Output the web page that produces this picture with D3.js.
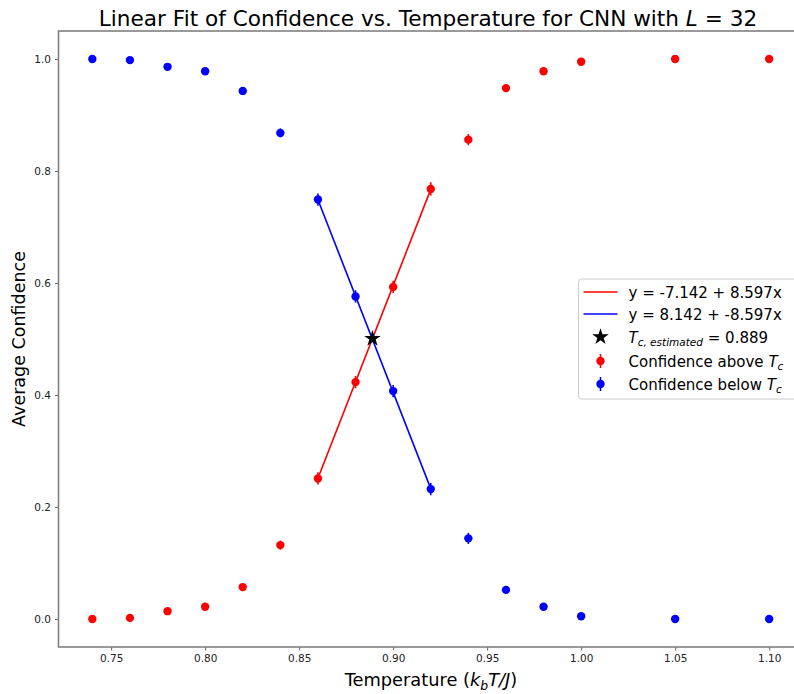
<!DOCTYPE html>
<html>
<head>
<meta charset="utf-8">
<script src="https://cdn.jsdelivr.net/npm/d3@7/dist/d3.min.js"></script>
<style>
  html, body { margin: 0; padding: 0; background: #fff; }
  svg { display: block; font-family: "DejaVu Sans", sans-serif; }
</style>
</head>
<body>
<svg id="chart" width="794" height="694"></svg>
<script>
// Temperatures sampled and the CNN's average confidence at each one
const temps = [0.74, 0.76, 0.78, 0.80, 0.82, 0.84, 0.86, 0.88, 0.90, 0.92, 0.94, 0.96, 0.98, 1.00, 1.05, 1.10];
const confAbove = [0.000, 0.002, 0.014, 0.022, 0.057, 0.132, 0.251, 0.423, 0.593, 0.768, 0.856, 0.948, 0.978, 0.995, 1.000, 1.000];
const errAbove  = [0.001, 0.002, 0.003, 0.003, 0.004, 0.008, 0.011, 0.011, 0.011, 0.012, 0.010, 0.005, 0.003, 0.002, 0.001, 0.001];
const confBelow = [1.000, 0.998, 0.986, 0.978, 0.943, 0.868, 0.749, 0.576, 0.407, 0.232, 0.144, 0.052, 0.022, 0.005, 0.000, 0.000];
const errBelow  = [0.001, 0.002, 0.003, 0.003, 0.004, 0.008, 0.011, 0.011, 0.011, 0.011, 0.010, 0.005, 0.003, 0.002, 0.001, 0.001];

// Linear fits [intercept, slope] over the transition window
const fitAbove = [-7.142, 8.597];
const fitBelow = [8.142, -8.597];
const fitRange = [0.86, 0.92];
const tcEstimate = 0.889;

const xTicks = [0.75, 0.80, 0.85, 0.90, 0.95, 1.00, 1.05, 1.10];
const yTicks = [0.0, 0.2, 0.4, 0.6, 0.8, 1.0];

const RED = "#ff0000", BLUE = "#0000ff";
const svg = d3.select("#chart");
const plotL = 58.5, plotR = 803, plotT = 31, plotB = 647;

const x = d3.scaleLinear().domain([0.722, 1.118]).range([plotL, plotR]);
const y = d3.scaleLinear().domain([-0.05, 1.05]).range([plotB, plotT]);

// Axes
const gx = svg.append("g").attr("transform", `translate(0,${plotB})`)
  .call(d3.axisBottom(x).tickValues(xTicks).tickFormat(d3.format(".2f")).tickSizeOuter(0).tickSize(3.5).tickPadding(4));
const gy = svg.append("g").attr("transform", `translate(${plotL},0)`)
  .call(d3.axisLeft(y).tickValues(yTicks).tickFormat(d3.format(".1f")).tickSizeOuter(0).tickSize(3.5).tickPadding(4));
[gx, gy].forEach(g => {
  g.selectAll("text").attr("font-family", "DejaVu Sans").attr("font-size", 10.5).attr("fill", "#222");
  g.selectAll("line").attr("stroke", "#666");
  g.select(".domain").remove();
});
// spines
svg.append("rect").attr("x", plotL).attr("y", plotT).attr("width", plotR - plotL).attr("height", plotB - plotT)
  .attr("fill", "none").attr("stroke", "#808080").attr("stroke-width", 1.6);

// Fit lines
const line = d3.line().x(d => x(d[0])).y(d => y(d[1]));
function fitPoints(c) { return fitRange.map(t => [t, c[0] + c[1] * t]); }
svg.append("path").attr("d", line(fitPoints(fitAbove))).attr("stroke", RED).attr("stroke-width", 1.6).attr("fill", "none");
svg.append("path").attr("d", line(fitPoints(fitBelow))).attr("stroke", BLUE).attr("stroke-width", 1.6).attr("fill", "none");

// Error-bar series
function series(vals, errs, color) {
  const g = svg.append("g");
  temps.forEach((t, i) => {
    g.append("line").attr("x1", x(t)).attr("x2", x(t))
      .attr("y1", y(vals[i] - errs[i])).attr("y2", y(vals[i] + errs[i]))
      .attr("stroke", color).attr("stroke-width", 1.6);
    g.append("circle").attr("cx", x(t)).attr("cy", y(vals[i])).attr("r", 4.2).attr("fill", color);
  });
}
series(confAbove, errAbove, RED);
series(confBelow, errBelow, BLUE);

// Estimated critical temperature
const tcY = fitAbove[0] + fitAbove[1] * tcEstimate;
svg.append("path").attr("d", d3.symbol(d3.symbolStar, 85)())
  .attr("transform", `translate(${x(tcEstimate)},${y(tcY)})`).attr("fill", "#000");

// Title and axis labels
const title = svg.append("text").attr("x", 428).attr("y", 26).attr("text-anchor", "middle")
  .attr("font-size", 21.6).attr("fill", "#000");
title.append("tspan").text("Linear Fit of Confidence vs. Temperature for CNN with ");
title.append("tspan").attr("font-style", "italic").text("L");
title.append("tspan").text(" = 32");

const xl = svg.append("text").attr("x", 431).attr("y", 686).attr("text-anchor", "middle")
  .attr("font-size", 17.8).attr("fill", "#000");
xl.append("tspan").text("Temperature (");
xl.append("tspan").attr("font-style", "italic").text("k");
xl.append("tspan").attr("font-style", "italic").attr("font-size", 12.5).attr("dy", 3.5).text("b");
xl.append("tspan").attr("font-style", "italic").attr("dy", -3.5).text("T/J");
xl.append("tspan").text(")");

svg.append("text").attr("transform", "translate(25,339) rotate(-90)").attr("text-anchor", "middle")
  .attr("font-size", 17.5).attr("fill", "#000").text("Average Confidence");

// Legend
const lg = svg.append("g").attr("transform", "translate(578.5,279)");
lg.append("rect").attr("width", 220).attr("height", 120).attr("rx", 3)
  .attr("fill", "#fff").attr("fill-opacity", 0.8).attr("stroke", "#cccccc").attr("stroke-width", 1);
const rows = [292, 314, 337, 361, 384].map(v => v - 279);
const hx0 = 5, hx1 = 39, tx = 50, fs = 15;
const fmt = v => v.toFixed(3);

lg.append("line").attr("x1", hx0).attr("x2", hx1).attr("y1", rows[0]).attr("y2", rows[0]).attr("stroke", RED).attr("stroke-width", 1.6);
lg.append("text").attr("x", tx).attr("y", rows[0] + 5.5).attr("font-size", fs).text(`y = ${fmt(fitAbove[0])} + ${fmt(fitAbove[1])}x`);
lg.append("line").attr("x1", hx0).attr("x2", hx1).attr("y1", rows[1]).attr("y2", rows[1]).attr("stroke", BLUE).attr("stroke-width", 1.6);
lg.append("text").attr("x", tx).attr("y", rows[1] + 5.5).attr("font-size", fs).text(`y = ${fmt(fitBelow[0])} + ${fmt(fitBelow[1])}x`);

lg.append("path").attr("d", d3.symbol(d3.symbolStar, 85)()).attr("transform", `translate(${(hx0 + hx1) / 2},${rows[2]})`).attr("fill", "#000");
const t3 = lg.append("text").attr("x", tx).attr("y", rows[2] + 5.5).attr("font-size", fs);
t3.append("tspan").attr("font-style", "italic").text("T");
t3.append("tspan").attr("font-style", "italic").attr("font-size", 10.5).attr("dy", 3).text("c, estimated");
t3.append("tspan").attr("dy", -3).text(` = ${tcEstimate}`);

[[RED, "above", rows[3]], [BLUE, "below", rows[4]]].forEach(([c, w, ry]) => {
  const cx = (hx0 + hx1) / 2;
  lg.append("line").attr("x1", cx).attr("x2", cx).attr("y1", ry - 7).attr("y2", ry + 7).attr("stroke", c).attr("stroke-width", 1.6);
  lg.append("circle").attr("cx", cx).attr("cy", ry).attr("r", 4.2).attr("fill", c);
  const t = lg.append("text").attr("x", tx).attr("y", ry + 5.5).attr("font-size", fs);
  t.append("tspan").text(`Confidence ${w} `);
  t.append("tspan").attr("font-style", "italic").text("T");
  t.append("tspan").attr("font-style", "italic").attr("font-size", 10.5).attr("dy", 3).text("c");
});
</script>
</body>
</html>
